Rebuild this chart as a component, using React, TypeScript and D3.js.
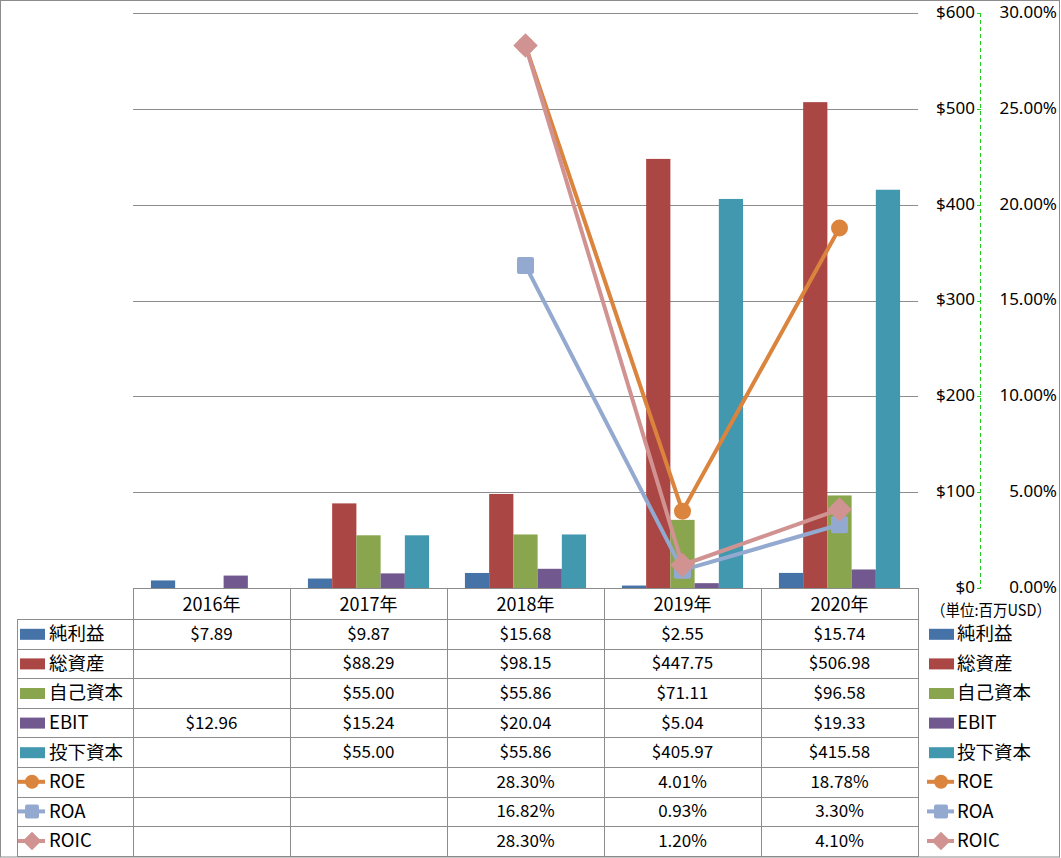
import React from "react";
import * as d3 from "d3";

const years = ["2016年", "2017年", "2018年", "2019年", "2020年"];
const netIncome = [7.89, 9.87, 15.68, 2.55, 15.74];
const totalAssets = [null, 88.29, 98.15, 447.75, 506.98];
const equity = [null, 55.0, 55.86, 71.11, 96.58];
const ebit = [12.96, 15.24, 20.04, 5.04, 19.33];
const investedCapital = [null, 55.0, 55.86, 405.97, 415.58];
const roe = [null, null, 0.283, 0.0401, 0.1878];
const roa = [null, null, 0.1682, 0.0093, 0.033];
const roic = [null, null, 0.283, 0.012, 0.041];
const dollarTicks = [0, 100, 200, 300, 400, 500, 600];
const pctTicks = [0, 0.05, 0.1, 0.15, 0.2, 0.25, 0.3];

type Series = { name: string; values: (number | null)[]; color: string; kind: "bar" | "line"; marker?: string; fmt: (v: number) => string };

const dollarFmt = (v: number) => "$" + d3.format(",.2f")(v);
const pctFmt = (v: number) => d3.format(".2%")(v);

const barSeries: Series[] = [
  { name: "純利益", values: netIncome, color: "#4572A7", kind: "bar", fmt: dollarFmt },
  { name: "総資産", values: totalAssets, color: "#AA4643", kind: "bar", fmt: dollarFmt },
  { name: "自己資本", values: equity, color: "#89A54E", kind: "bar", fmt: dollarFmt },
  { name: "EBIT", values: ebit, color: "#71588F", kind: "bar", fmt: dollarFmt },
  { name: "投下資本", values: investedCapital, color: "#4198AF", kind: "bar", fmt: dollarFmt },
];
const lineSeries: Series[] = [
  { name: "ROE", values: roe, color: "#DB843D", kind: "line", marker: "circle", fmt: pctFmt },
  { name: "ROA", values: roa, color: "#93A9CF", kind: "line", marker: "square", fmt: pctFmt },
  { name: "ROIC", values: roic, color: "#D19392", kind: "line", marker: "diamond", fmt: pctFmt },
];
const allSeries = [...barSeries, ...lineSeries];

const FONT = "'Noto Sans CJK JP', 'Noto Sans', sans-serif";
const NUMFONT = "'Noto Sans', sans-serif";

function Marker({ kind, x, y, color, size }: { kind?: string; x: number; y: number; color: string; size: number }) {
  if (kind === "circle") return <circle cx={x} cy={y} r={size / 2} fill={color} />;
  if (kind === "square")
    return <rect x={x - size / 2} y={y - size / 2} width={size} height={size} rx={2} fill={color} />;
  const h = size * 0.72;
  return <path d={`M${x},${y - h} L${x + h},${y} L${x},${y + h} L${x - h},${y} Z`} fill={color} />;
}

export default function App() {
  const W = 1061, H = 858;
  const left = 133, right = 918, top = 13, bottom = 588;
  const x = d3.scaleBand<string>().domain(years).range([left, right]).padding(0);
  const xs = d3.scaleBand<string>().domain(barSeries.map((s) => s.name)).range([0, x.bandwidth()]).paddingInner(0).paddingOuter(0.74);
  const y = d3.scaleLinear().domain([0, 600]).range([bottom, top]);
  const yp = d3.scaleLinear().domain([0, 0.3]).range([bottom, top]);

  const tableTop = 588;
  const headerH = 31;
  const rowH = 29.6;
  const rowsTop = tableTop + headerH;
  const tableLeft = 17;
  const gray = "#8c8c8c";

  const lineGen = d3
    .line<[number, number | null]>()
    .defined((d) => d[1] != null)
    .x((d) => d[0])
    .y((d) => yp(d[1] as number));

  const markerSize: Record<string, number> = { circle: 17, square: 17, diamond: 17 };

  return (
    <svg width={W} height={H} style={{ position: "absolute", left: 0, top: 0, background: "#fff" }} fontFamily={FONT}>
      <rect x={0.5} y={0.5} width={1059} height={856.5} fill="#fff" stroke={gray} strokeWidth={1} />
      {/* gridlines */}
      {dollarTicks.map((t) => (
        <line key={t} x1={left} x2={right} y1={Math.round(y(t)) + 0.5} y2={Math.round(y(t)) + 0.5} stroke={gray} strokeWidth={1} />
      ))}
      {/* dollar axis labels */}
      {dollarTicks.map((t) => (
        <text key={"d" + t} x={975} y={y(t) - 1} dy="0.35em" textAnchor="end" fontSize={17} fontFamily={NUMFONT} fill="#000">
          {"$" + t}
        </text>
      ))}
      {/* pct axis */}
      <line x1={980.5} x2={980.5} y1={top} y2={bottom} stroke="#22cc22" strokeWidth={1} strokeDasharray="4,3" />
      {pctTicks.map((t) => (
        <g key={"p" + t}>
          <line x1={977} x2={981} y1={Math.round(yp(t)) + 0.5} y2={Math.round(yp(t)) + 0.5} stroke="#22cc22" strokeWidth={1} />
          <text x={1057} y={yp(t) - 1} dy="0.35em" textAnchor="end" fontSize={17} fontFamily={NUMFONT} fill="#000">
            {pctFmt(t)}
          </text>
        </g>
      ))}
      {/* bars */}
      {barSeries.map((s) => (
        <g key={s.name}>
          {s.values.map((v, i) =>
            v == null ? null : (
              <rect key={i} x={(x(years[i]) as number) + (xs(s.name) as number)} y={y(v)} width={xs.bandwidth()} height={bottom - y(v)} fill={s.color} />
            )
          )}
        </g>
      ))}
      {/* lines */}
      {lineSeries.map((s) => {
        const pts = s.values.map((v, i) => [(x(years[i]) as number) + x.bandwidth() / 2, v] as [number, number | null]);
        return (
          <g key={s.name}>
            <path d={lineGen(pts) || ""} fill="none" stroke={s.color} strokeWidth={4} strokeLinejoin="round" />
            {pts.map((p, i) =>
              p[1] == null ? null : <Marker key={i} kind={s.marker} x={p[0]} y={yp(p[1])} color={s.color} size={markerSize[s.marker as string]} />
            )}
          </g>
        );
      })}
      {/* table horizontal lines */}
      {allSeries.map((s, r) => (
        <line key={"h" + r} x1={tableLeft} x2={right} y1={Math.round(rowsTop + r * rowH) + 0.5} y2={Math.round(rowsTop + r * rowH) + 0.5} stroke={gray} />
      ))}
      <line x1={tableLeft} x2={right} y1={856.5} y2={856.5} stroke={gray} />
      {/* vertical lines */}
      {d3.range(years.length + 1).map((i) => (
        <line key={"v" + i} x1={Math.round(left + i * x.bandwidth()) + 0.5} x2={Math.round(left + i * x.bandwidth()) + 0.5} y1={tableTop} y2={857} stroke={gray} />
      ))}
      <line x1={tableLeft + 0.5} x2={tableLeft + 0.5} y1={rowsTop} y2={857} stroke={gray} />
      {/* header */}
      {years.map((yr) => (
        <text key={yr} x={(x(yr) as number) + x.bandwidth() / 2} y={tableTop + headerH / 2 + 1} dy="0.35em" textAnchor="middle" fontSize={18}>
          {yr}
        </text>
      ))}
      <text x={931} y={611} dy="0.35em" fontSize={15.5} textLength={120} lengthAdjust="spacingAndGlyphs">
        （単位:百万USD）
      </text>
      {/* rows */}
      {allSeries.map((s, r) => {
        const cy = rowsTop + r * rowH + rowH / 2;
        const key = (kx: number) =>
          s.kind === "bar" ? (
            <rect x={kx} y={cy - 5} width={25} height={11} fill={s.color} />
          ) : (
            <g>
              <line x1={kx - 2} x2={kx + 25} y1={cy} y2={cy} stroke={s.color} strokeWidth={4} />
              <Marker kind={s.marker} x={kx + 12} y={cy} color={s.color} size={s.marker === "diamond" ? 13 : 14} />
            </g>
          );
        return (
          <g key={"r" + r}>
            {key(20)}
            <text x={49} y={cy} dy="0.35em" fontSize={18.5}>
              {s.name}
            </text>
            {s.values.map((v, i) =>
              v == null ? null : (
                <text key={i} x={(x(years[i]) as number) + x.bandwidth() / 2} y={cy} dy="0.35em" textAnchor="middle" fontSize={17}>
                  {s.fmt(v)}
                </text>
              )
            )}
            {key(929)}
            <text x={957} y={cy} dy="0.35em" fontSize={18.5}>
              {s.name}
            </text>
          </g>
        );
      })}
    </svg>
  );
}
